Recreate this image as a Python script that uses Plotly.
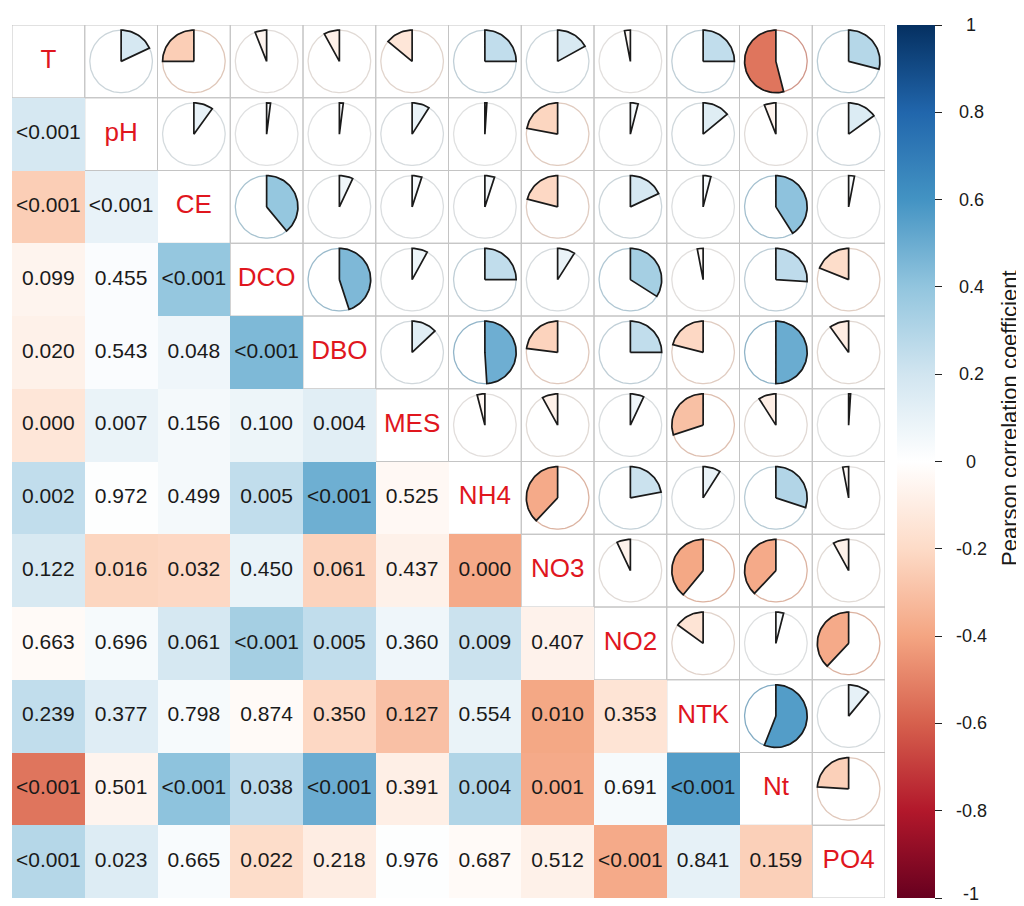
import numpy as np
import plotly.graph_objects as go

variables = ["T", "pH", "CE", "DCO", "DBO", "MES", "NH4", "NO3", "NO2", "NTK", "Nt", "PO4"]

corr_upper = [
    [0.18, -0.25, -0.06, -0.08, -0.14, 0.25, 0.17, -0.03, 0.25, -0.54, 0.29],
    [0.10, 0.02, 0.02, 0.09, 0.01, -0.22, 0.04, 0.14, -0.06, 0.15],
    [0.39, 0.07, 0.05, 0.05, -0.21, 0.18, 0.04, 0.41, 0.03],
    [0.45, 0.08, 0.25, 0.09, 0.34, -0.03, 0.26, -0.19],
    [0.13, 0.49, -0.23, 0.25, -0.21, 0.50, -0.10],
    [-0.04, -0.08, 0.07, -0.30, -0.09, 0.01],
    [-0.38, 0.22, 0.09, 0.30, -0.03],
    [-0.07, -0.39, -0.38, -0.08],
    [-0.15, 0.04, -0.38],
    [0.56, 0.11],
    [-0.24],
]

# lower triangle p-value labels, row i -> columns 1..i-1
p_lower = [
    ["<0.001"],
    ["<0.001", "<0.001"],
    ["0.099", "0.455", "<0.001"],
    ["0.020", "0.543", "0.048", "<0.001"],
    ["0.000", "0.007", "0.156", "0.100", "0.004"],
    ["0.002", "0.972", "0.499", "0.005", "<0.001", "0.525"],
    ["0.122", "0.016", "0.032", "0.450", "0.061", "0.437", "0.000"],
    ["0.663", "0.696", "0.061", "<0.001", "0.005", "0.360", "0.009", "0.407"],
    ["0.239", "0.377", "0.798", "0.874", "0.350", "0.127", "0.554", "0.010", "0.353"],
    ["<0.001", "0.501", "<0.001", "0.038", "<0.001", "0.391", "0.004", "0.001", "0.691", "<0.001"],
    ["<0.001", "0.023", "0.665", "0.022", "0.218", "0.976", "0.687", "0.512", "<0.001", "0.841", "0.159"],
]

cbar_ticks = [1, 0.8, 0.6, 0.4, 0.2, 0, -0.2, -0.4, -0.6, -0.8, -1]

palette = ["#67001F", "#B2182B", "#D6604D", "#F4A582", "#FDDBC7", "#FFFFFF",
           "#D1E5F0", "#92C5DE", "#4393C3", "#2166AC", "#053061"]

n = len(variables)
R = np.eye(n)
for i, row in enumerate(corr_upper):
    for k, v in enumerate(row):
        j = i + 1 + k
        R[i, j] = v
        R[j, i] = v


def hex2rgb(h):
    return np.array([int(h[1:3], 16), int(h[3:5], 16), int(h[5:7], 16)], dtype=float)


pal_rgb = [hex2rgb(c) for c in palette]


def rcolor(r, mix=None, w=0.0):
    t = (r + 1) / 2 * (len(palette) - 1)
    k = min(int(np.floor(t)), len(palette) - 2)
    f = t - k
    c = pal_rgb[k] * (1 - f) + pal_rgb[k + 1] * f
    if mix is not None:
        c = c * (1 - w) + hex2rgb(mix) * w
    return "rgb(%d,%d,%d)" % tuple(np.round(c))


colorscale = [[k / (len(palette) - 1), c] for k, c in enumerate(palette)]

fig = go.Figure()

# grid around upper triangle + diagonal cells
grid_col = "#C4C4C4"
for i in range(n):
    for j in range(i, n):
        fig.add_shape(type="rect", x0=j + 0.5, x1=j + 1.5, y0=i + 0.5, y1=i + 1.5,
                      line=dict(color=grid_col, width=1), layer="below")

# lower triangle coloured tiles
z = np.full((n, n), np.nan)
for i in range(n):
    for j in range(i):
        z[i, j] = R[i, j]

fig.add_trace(go.Heatmap(
    z=z, x=list(range(1, n + 1)), y=list(range(1, n + 1)),
    colorscale=colorscale, zmin=-1, zmax=1, hoverinfo="skip",
    colorbar=dict(
        x=1.0137, xanchor="left", xpad=0, y=0.5, yanchor="middle", ypad=0,
        len=1, lenmode="fraction", thickness=38, outlinewidth=0,
        tickvals=cbar_ticks, ticks="outside", ticklen=7, tickcolor="#222",
        showticklabels=False,
    ),
))

# pies
rad = 0.43
for i in range(n):
    for j in range(i + 1, n):
        r = R[i, j]
        cx, cy = j + 1, i + 1
        a = np.linspace(0, 2 * np.pi, 120)
        fig.add_trace(go.Scatter(
            x=cx + rad * np.sin(a), y=cy - rad * np.cos(a), mode="lines",
            line=dict(color=rcolor(r, "#BEBEBE", 0.45), width=1.3),
            hoverinfo="skip", showlegend=False))
        theta = abs(r) * 2 * np.pi
        m = max(int(theta / (2 * np.pi) * 120), 2)
        a = np.linspace(0, theta, m)
        sgn = 1 if r >= 0 else -1
        xs = np.concatenate([[cx], cx + sgn * rad * np.sin(a), [cx]])
        ys = np.concatenate([[cy], cy - rad * np.cos(a), [cy]])
        fig.add_trace(go.Scatter(
            x=xs, y=ys, mode="lines", fill="toself", fillcolor=rcolor(r),
            line=dict(color="#1A1A1A", width=1.7),
            hoverinfo="skip", showlegend=False))

# p-value labels
px_, py_, pt_ = [], [], []
for i, row in enumerate(p_lower):
    for j, t in enumerate(row):
        px_.append(j + 1)
        py_.append(i + 2)
        pt_.append(t)
fig.add_trace(go.Scatter(
    x=px_, y=py_, text=pt_, mode="text",
    textfont=dict(family="Liberation Sans, Arial", size=21, color="#1A1A1A"),
    hoverinfo="skip", showlegend=False))

# diagonal names
fig.add_trace(go.Scatter(
    x=list(range(1, n + 1)), y=list(range(1, n + 1)), text=variables, mode="text",
    textfont=dict(family="Liberation Sans, Arial", size=26, color="#E0161E"),
    hoverinfo="skip", showlegend=False))

# page body adds an 8px offset, so the figure is laid out 8px up/left
OFF = 8
L, T, RM, B = 12 - OFF, 25 - OFF, 139, 8
W, H = 1024 - OFF, 906 - OFF
pw = W - L - RM
ph = H - T - B

annotations = []
for v in cbar_ticks:
    annotations.append(dict(
        x=(971 - OFF - L) / pw, y=(v + 1) / 2, xref="paper", yref="paper",
        text=("%g" % v), showarrow=False, xanchor="center", yanchor="middle",
        yshift=4 if v == -1 else 0,
        font=dict(family="Liberation Sans, Arial", size=18, color="#1A1A1A")))
annotations.append(dict(
    x=(1010 - OFF - L) / pw, y=1 - (418 - OFF - T) / ph, xref="paper", yref="paper",
    text="Pearson correlation coefficient", showarrow=False, textangle=-90,
    xanchor="center", yanchor="middle",
    font=dict(family="Liberation Sans, Arial", size=22, color="#1A1A1A")))

fig.update_layout(
    width=W, height=H, margin=dict(l=L, r=RM, t=T, b=B),
    paper_bgcolor="white", plot_bgcolor="white",
    xaxis=dict(range=[0.5, n + 0.5], visible=False, fixedrange=True),
    yaxis=dict(range=[n + 0.5, 0.5], visible=False, fixedrange=True),
    annotations=annotations, showlegend=False,
)

fig.write_html("out.html")
